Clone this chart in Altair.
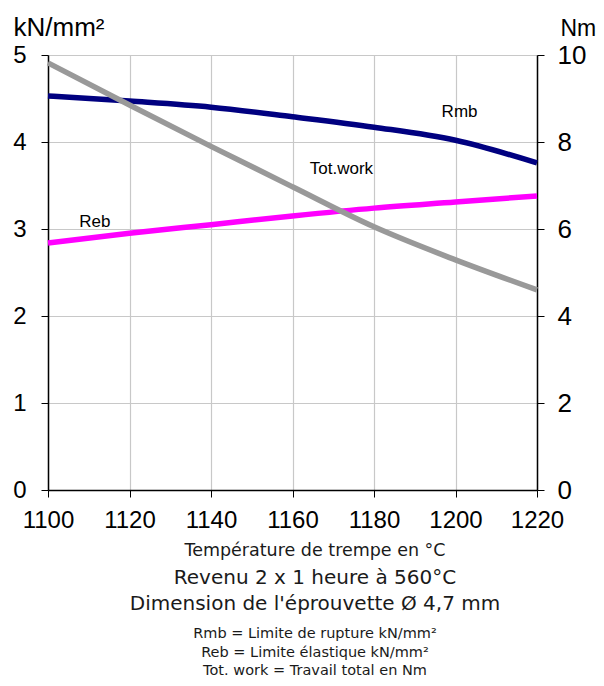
import altair as alt
import pandas as pd

temps = [1100, 1120, 1140, 1160, 1180, 1200, 1220]
rmb = [4.53, 4.47, 4.40, 4.29, 4.17, 4.02, 3.76]
reb = [2.84, 2.95, 3.05, 3.15, 3.24, 3.31, 3.38]
tot_work = [9.82, 8.85, 7.90, 6.97, 6.05, 5.29, 4.60]

label_text = ["Rmb", "Tot.work", "Reb"]
label_x = [1201, 1172, 1111.5]
label_y = [4.34, 3.69, 3.08]

bottom_lines = [
    "Température de trempe en °C",
    "Revenu 2 x 1 heure à 560°C",
    "Dimension de l'éprouvette Ø 4,7 mm",
    "Rmb = Limite de rupture kN/mm²",
    "Reb = Limite élastique kN/mm²",
    "Tot. work = Travail total en Nm",
]
bottom_sizes = [17.5, 20, 20, 14.5, 14.5, 14.5]
bottom_offsets = [496, 523, 549, 579, 598, 616]

W, H = 489, 435
TICKFONT = "Liberation Sans"

left_df = pd.DataFrame({
    "temp": temps * 2,
    "val": rmb + reb,
    "series": ["Rmb"] * len(temps) + ["Reb"] * len(temps),
})
tot_df = pd.DataFrame({"temp": temps, "val": tot_work})
lab_df = pd.DataFrame({"temp": label_x, "val": label_y, "txt": label_text})

xscale = alt.Scale(domain=[1100, 1220], nice=False, zero=False)
xaxis = alt.Axis(values=temps, grid=True, gridColor="#c8c8c8", gridWidth=1.2,
                 domainColor="#000", domainWidth=1.5, tickColor="#000", tickSize=7,
                 labelFontSize=24, labelFont=TICKFONT, labelColor="#000",
                 labelPadding=11, title=None, format="d", labelFlush=False)

left_lines = alt.Chart(left_df).mark_line(strokeWidth=5.5, interpolate="monotone").encode(
    x=alt.X("temp:Q", scale=xscale, axis=xaxis),
    y=alt.Y("val:Q", scale=alt.Scale(domain=[0, 5], nice=False),
            axis=alt.Axis(values=[0, 1, 2, 3, 4, 5], grid=True, gridColor="#c8c8c8", gridWidth=1.2,
                          domainColor="#000", domainWidth=1.5, tickColor="#000", tickSize=7,
                          labelFontSize=24, labelFont=TICKFONT, labelColor="#000",
                          labelPadding=15, labelFlush=False, format="d",
                          title="kN/mm²", titleAngle=0, titleX=-35, titleY=-20,
                          titleAlign="left", titleBaseline="alphabetic",
                          titleFont=TICKFONT, titleFontSize=26, titleFontWeight="normal",
                          titleColor="#000")),
    color=alt.Color("series:N", scale=alt.Scale(domain=["Rmb", "Reb"], range=["#000080", "#ff00ff"]),
                    legend=None),
)

labels = alt.Chart(lab_df).mark_text(font=TICKFONT, fontSize=17, color="#000").encode(
    x=alt.X("temp:Q", scale=xscale), y=alt.Y("val:Q"), text="txt:N")

bottom_layers = []
for t, s, o in zip(bottom_lines, bottom_sizes, bottom_offsets):
    bottom_layers.append(
        alt.Chart(pd.DataFrame({"t": [t]})).mark_text(
            font="DejaVu Sans", fontSize=s, color="#1a1a1a", baseline="middle", align="center"
        ).encode(x=alt.value(267), y=alt.value(o), text="t:N")
    )

left = alt.layer(left_lines, labels, *bottom_layers)

right = alt.Chart(tot_df).mark_line(strokeWidth=5.5, color="#999999", interpolate="monotone").encode(
    x=alt.X("temp:Q", scale=xscale),
    y=alt.Y("val:Q", scale=alt.Scale(domain=[0, 10], nice=False),
            axis=alt.Axis(orient="right", values=[0, 2, 4, 6, 8, 10], grid=False,
                          domainColor="#000", domainWidth=1.5, tickColor="#000", tickSize=7,
                          labelFontSize=26, labelFont=TICKFONT, labelColor="#000",
                          labelPadding=13, labelFlush=False, format="d",
                          title="Nm", titleAngle=0, titleX=23, titleY=-20,
                          titleAlign="left", titleBaseline="alphabetic",
                          titleFont=TICKFONT, titleFontSize=23, titleFontWeight="normal",
                          titleColor="#000")),
)

chart = alt.layer(left, right).resolve_scale(y="independent").properties(
    width=W, height=H,
    autosize=alt.AutoSizeParams(type="none"),
    padding={"left": 40, "top": 47, "right": 59, "bottom": 188},
).configure_view(stroke="#808080", strokeWidth=2.5).configure(background="white")

chart.save("out.html", embed_options={"renderer": "svg", "actions": False})
